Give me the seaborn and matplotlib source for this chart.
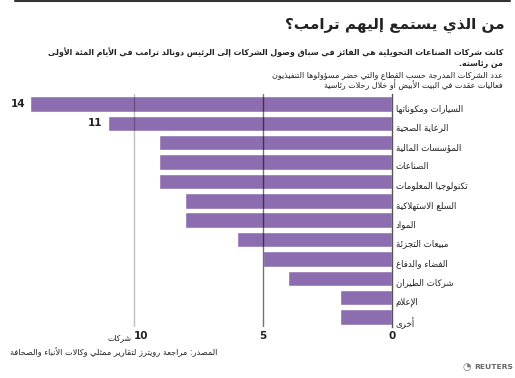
import re
import matplotlib
matplotlib.use("Agg")
import matplotlib.pyplot as plt
from matplotlib.lines import Line2D
import seaborn as sns
import pandas as pd

# data
categories = [
    "السيارات ومكوناتها",
    "الرعاية الصحية",
    "المؤسسات المالية",
    "الصناعات",
    "تكنولوجيا المعلومات",
    "السلع الاستهلاكية",
    "المواد",
    "مبيعات التجزئة",
    "الفضاء والدفاع",
    "شركات الطيران",
    "الإعلام",
    "أخرى",
]
counts = [14, 11, 9, 9, 9, 8, 8, 6, 5, 4, 2, 2]
labelled = [0, 1]  # bars that carry a value label
tick_values = [0, 5, 10]
tick_unit = "شركات"

title = "من الذي يستمع إليهم ترامب؟"
subtitle = [
    "كانت شركات الصناعات التحويلية هي الفائز في سباق وصول الشركات إلى الرئيس دونالد ترامب في الأيام المئة الأولى",
    "من رئاسته.",
]
note = [
    "عدد الشركات المدرجة حسب القطاع والتي حضر مسؤولوها التنفيذيون",
    "فعاليات عقدت في البيت الأبيض أو خلال رحلات رئاسية",
]
source = "المصدر: مراجعة رويترز لتقارير ممثلي وكالات الأنباء والصحافة"

PURPLE = "#8c6daf"
INK = "#222222"

# matplotlib has no arabic shaping, so pick presentation forms by hand
LETTERS = "ءآأؤإئابةتثجحخدذرزسشصضطظعغفقكلمنهوىي"
TYPES = "N" + "RRRR" + "D" + "R" + "D" + "R" + "DDDDD" + "RRRR" + "D" * 15 + "RR" + "D"
FORMS = {}
_code = 0xFE80
for ch, t in zip(LETTERS, TYPES):
    k = {"N": 1, "R": 2, "D": 4}[t]
    FORMS[ch] = (t, [chr(_code + j) for j in range(k)])
    _code += k
LAM_ALEF = {"آ": 0xFEF5, "أ": 0xFEF7, "إ": 0xFEF9, "ا": 0xFEFB}


def ar(text):
    out = []
    i, n = 0, len(text)
    while i < n:
        ch = text[i]
        if ch not in FORMS:
            out.append(ch)
            i += 1
            continue
        prev = i > 0 and text[i - 1] in FORMS and FORMS[text[i - 1]][0] == "D"
        if ch == "ل" and i + 1 < n and text[i + 1] in LAM_ALEF:
            out.append(chr(LAM_ALEF[text[i + 1]] + (1 if prev else 0)))
            i += 2
            continue
        nxt = i + 1 < n and text[i + 1] in FORMS and FORMS[text[i + 1]][0] != "N"
        t, forms = FORMS[ch]
        if t == "D":
            idx = 3 if prev and nxt else 2 if nxt else 1 if prev else 0
        elif t == "R":
            idx = 1 if prev else 0
        else:
            idx = 0
        out.append(forms[idx])
        i += 1
    s = "".join(out)[::-1]
    return re.sub(r"\d+", lambda m: m.group(0)[::-1], s)


sns.set_style("white")
plt.rcParams["font.family"] = ["DejaVu Sans"]

W, H = 515, 378
fig = plt.figure(figsize=(W / 100, H / 100), dpi=100)
renderer = fig.canvas.get_renderer()


def fx(px):
    return px / W


def fy(py):
    return 1 - py / H


def fit_size(text, width_px, weight="normal"):
    # font size that makes the shaped text about width_px wide
    t = fig.text(0, 0, text, fontsize=10, fontweight=weight)
    w = t.get_window_extent(renderer).width
    t.remove()
    return 10 * width_px / w


ax = fig.add_axes([fx(10), fy(326.7), fx(381.7), (326.7 - 94.3) / H])

df = pd.DataFrame({"category": [ar(c) for c in categories], "count": counts})
sns.barplot(data=df, x="count", y="category", orient="h", color=PURPLE,
            saturation=1, width=0.8, ax=ax)

ax.set_xlim(14.79, 0)
ax.set_ylim(11.5, -0.5)
ax.axvline(10, color="#000000", alpha=0.25, lw=1, zorder=5)
ax.axvline(5, color="#000000", alpha=0.55, lw=1, zorder=5)

for s in ["top", "left", "bottom"]:
    ax.spines[s].set_visible(False)
ax.spines["right"].set_color("#555555")
ax.spines["right"].set_linewidth(1)

cat_fs = fit_size(ar(categories[0]), 68)
ax.yaxis.tick_right()
ax.tick_params(axis="y", length=0, pad=3, labelsize=cat_fs, labelcolor=INK)
for lbl in ax.get_yticklabels():
    lbl.set_va("top")
ax.set_xticks(tick_values)
ax.set_xticklabels([str(v) for v in tick_values], fontweight="bold")
ax.tick_params(axis="x", length=0, pad=3, labelsize=7.5, labelcolor=INK)
ax.get_xticklabels()[2].set_ha("left")
ax.set_xlabel("")
ax.set_ylabel("")
ax.text(10.08, -0.028, ar(tick_unit), transform=ax.get_xaxis_transform(),
        ha="right", va="top", fontsize=fit_size(ar(tick_unit), 24), color=INK)

for i in labelled:
    ax.text(counts[i] + 0.2, i, str(counts[i]), ha="right", va="center",
            fontsize=7.5, fontweight="bold", color=INK)

# header
fig.add_artist(Line2D([fx(15), fx(510)], [fy(1), fy(1)], color="#333333", lw=1.5))
fig.text(fx(505), fy(25), ar(title), ha="right", va="center",
         fontsize=fit_size(ar(title), 222, "bold"), fontweight="bold", color=INK)
sub_fs = fit_size(ar(subtitle[0]), 460, "bold")
fig.text(fx(503), fy(52), ar(subtitle[0]), ha="right", va="center", fontsize=sub_fs,
         fontweight="bold", color=INK)
fig.text(fx(503), fy(63), ar(subtitle[1]), ha="right", va="center", fontsize=sub_fs,
         fontweight="bold", color=INK)
note_fs = fit_size(ar(note[0]), 232)
fig.text(fx(503), fy(75), ar(note[0]), ha="right", va="center", fontsize=note_fs,
         color=INK)
fig.text(fx(503), fy(85), ar(note[1]), ha="right", va="center", fontsize=note_fs,
         color=INK)

# footer
fig.text(fx(217), fy(352), ar(source), ha="right", va="center",
         fontsize=fit_size(ar(source), 208), color=INK)
fig.text(fx(474), fy(367), "REUTERS", ha="left", va="center", fontsize=5.4,
         fontweight="bold", color="#666666")
fig.text(fx(467), fy(367), "\u25d4", ha="center", va="center", fontsize=7,
         color="#777777")

fig.savefig("out.png", dpi=100)
